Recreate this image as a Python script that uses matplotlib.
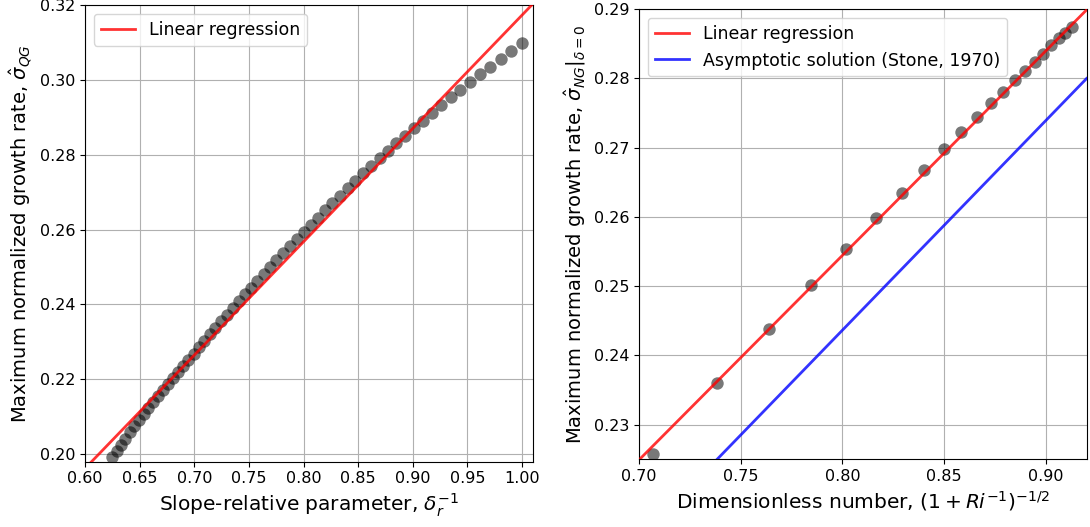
import matplotlib
matplotlib.use("Agg")
import matplotlib.pyplot as plt

# left panel: growth rate vs slope-relative parameter
inv_delta_r = [1.0, 0.9901, 0.9804, 0.9709, 0.9615, 0.9524, 0.9434, 0.9346, 0.9259, 0.9174,
               0.9091, 0.9009, 0.8929, 0.8850, 0.8772, 0.8696, 0.8621, 0.8547, 0.8475, 0.8403,
               0.8333, 0.8264, 0.8197, 0.8130, 0.8065, 0.8000, 0.7937, 0.7874, 0.7813, 0.7752,
               0.7692, 0.7634, 0.7576, 0.7519, 0.7463, 0.7407, 0.7353, 0.7299, 0.7246, 0.7194,
               0.7143, 0.7092, 0.7042, 0.6993, 0.6944, 0.6897, 0.6849, 0.6803, 0.6757, 0.6711,
               0.6667, 0.6623, 0.6579, 0.6536, 0.6494, 0.6452, 0.6410, 0.6369, 0.6329, 0.6289,
               0.6250]
sigma_qg = [0.3098, 0.3077, 0.3056, 0.3035, 0.3015, 0.2994, 0.2974, 0.2953, 0.2932, 0.2911,
            0.2891, 0.2870, 0.2850, 0.2830, 0.2810, 0.2790, 0.2770, 0.2750, 0.2730, 0.2710,
            0.2690, 0.2671, 0.2651, 0.2632, 0.2612, 0.2593, 0.2574, 0.2555, 0.2537, 0.2518,
            0.2500, 0.2481, 0.2463, 0.2445, 0.2427, 0.2409, 0.2391, 0.2373, 0.2355, 0.2338,
            0.2320, 0.2303, 0.2285, 0.2268, 0.2252, 0.2236, 0.2219, 0.2203, 0.2187, 0.2171,
            0.2155, 0.2139, 0.2122, 0.2106, 0.2090, 0.2074, 0.2058, 0.2041, 0.2025, 0.2009,
            0.1993]
qg_fit = (0.3028, 0.0145)  # slope, intercept

# right panel: growth rate vs dimensionless number
ri_number = [0.7071, 0.7385, 0.7638, 0.7845, 0.8018, 0.8165, 0.8292, 0.8402, 0.8498, 0.8584,
             0.8660, 0.8729, 0.8791, 0.8847, 0.8898, 0.8944, 0.8987, 0.9026, 0.9062, 0.9096,
             0.9129]
sigma_ng = [0.2258, 0.2360, 0.2438, 0.2501, 0.2554, 0.2598, 0.2635, 0.2668, 0.2698, 0.2722,
            0.2745, 0.2764, 0.2781, 0.2798, 0.2811, 0.2824, 0.2836, 0.2848, 0.2858, 0.2866,
            0.2875]
ng_fit = (0.2955, 0.01805)
stone_fit = (0.3029, 0.00133)

fig = plt.figure(figsize=(10.9, 5.27), dpi=100)
ax1 = fig.add_axes([0.078, 0.124, 0.411, 0.8666])
ax2 = fig.add_axes([0.5862, 0.1285, 0.4107, 0.854])

# left
ax1.scatter(inv_delta_r, sigma_qg, s=80, color='k', alpha=0.53, linewidths=0, zorder=2)
xl = (0.60, 1.01)
ax1.plot(xl, [qg_fit[0] * v + qg_fit[1] for v in xl], color='red', alpha=0.8, lw=2,
         label='Linear regression', zorder=3)
ax1.set_xlim(xl)
ax1.set_ylim(0.198, 0.32)
ax1.set_xticks([0.60, 0.65, 0.70, 0.75, 0.80, 0.85, 0.90, 0.95, 1.00])
ax1.grid(True)
ax1.set_xlabel(r'Slope-relative parameter, $\delta_r^{-1}$', fontsize=14.5)
ax1.set_ylabel(r'Maximum normalized growth rate, $\hat{\sigma}_{QG}$', fontsize=14)
ax1.tick_params(labelsize=11.5)
ax1.legend(loc='upper left', fontsize=12.5)

# right
ax2.scatter(ri_number, sigma_ng, s=80, color='k', alpha=0.53, linewidths=0, zorder=2)
xr = (0.70, 0.92)
ax2.plot(xr, [ng_fit[0] * v + ng_fit[1] for v in xr], color='red', alpha=0.8, lw=2,
         label='Linear regression', zorder=3)
ax2.plot(xr, [stone_fit[0] * v + stone_fit[1] for v in xr], color='blue', alpha=0.8, lw=2,
         label='Asymptotic solution (Stone, 1970)', zorder=3)
ax2.set_xlim(xr)
ax2.set_ylim(0.225, 0.29)
ax2.set_xticks([0.70, 0.75, 0.80, 0.85, 0.90])
ax2.grid(True)
ax2.set_xlabel(r'Dimensionless number, $(1+Ri^{-1})^{-1/2}$', fontsize=14.5)
ax2.set_ylabel(r'Maximum normalized growth rate, $\hat{\sigma}_{NG}|_{\delta=0}$', fontsize=14)
ax2.tick_params(labelsize=11.5)
ax2.legend(loc='upper left', fontsize=12.5)

fig.savefig('out.png', dpi=100)
